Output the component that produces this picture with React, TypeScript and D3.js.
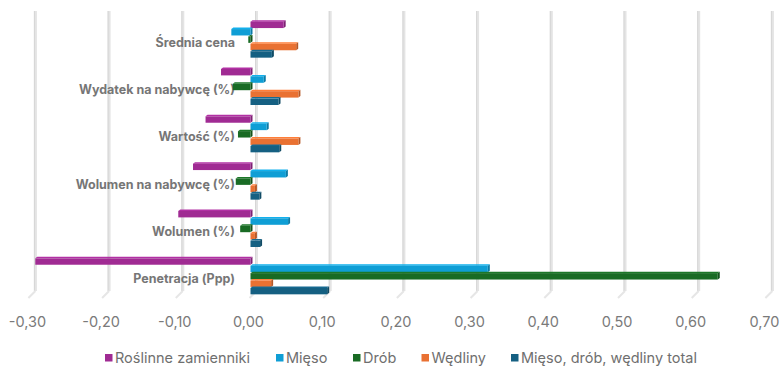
import * as d3 from 'd3'
import { useRef, useEffect } from 'react'

const categories = [
  'Średnia cena',
  'Wydatek na nabywcę (%)',
  'Wartość (%)',
  'Wolumen na nabywcę (%)',
  'Wolumen (%)',
  'Penetracja (Ppp)'
]
const seriesNames = ['Roślinne zamienniki', 'Mięso', 'Drób', 'Wędliny', 'Mięso, drób, wędliny total']
const seriesColors = ['#A02B93', '#0F9ED5', '#196B24', '#E97132', '#156082']

const roslinne = [0.045, -0.040, -0.061, -0.078, -0.098, -0.292]
const mieso = [-0.026, 0.018, 0.022, 0.048, 0.051, 0.322]
const drob = [-0.003, -0.024, -0.017, -0.020, -0.014, 0.634]
const wedliny = [0.062, 0.065, 0.065, 0.006, 0.006, 0.028]
const total = [0.029, 0.038, 0.039, 0.012, 0.013, 0.104]

const ticks = [-0.3, -0.2, -0.1, 0, 0.1, 0.2, 0.3, 0.4, 0.5, 0.6, 0.7]

const App = () => {
  const ref = useRef(null)

  useEffect(() => {
    drawChart()
  }, [])

  const drawChart = () => {
    const W = 782
    const H = 367
    const depth = 6
    const svg = d3.select(ref.current).attr('width', W).attr('height', H)
    svg.selectAll('*').remove()

    const values = [roslinne, mieso, drob, wedliny, total]

    const x = d3.scaleLinear().domain([-0.3, 0.7]).range([29.4, 766.4])
    const y = d3.scaleBand().domain(categories).range([15, 299]).padding(0)
    const sub = d3.scaleBand().domain(seriesNames).range([-18.5, 18.5]).padding(0)

    // back wall grid lines
    const grid = svg.append('g')
    ticks.forEach((t) => {
      const gx = x(t) + depth
      grid.append('line')
        .attr('x1', gx).attr('x2', gx).attr('y1', 11).attr('y2', 291)
        .attr('stroke', '#e4e4e4').attr('stroke-width', 3)
      grid.append('line')
        .attr('x1', gx - 1).attr('x2', gx - 1).attr('y1', 11).attr('y2', 291)
        .attr('stroke', '#d2d2d2').attr('stroke-width', 0.8)
      grid.append('line')
        .attr('x1', gx).attr('x2', gx - 7).attr('y1', 291).attr('y2', 298)
        .attr('stroke', '#e6e6e6').attr('stroke-width', 2)
    })

    // category labels
    svg.append('g')
      .selectAll('text')
      .data(categories)
      .enter()
      .append('text')
      .attr('x', 235)
      .attr('y', (d) => y(d) + y.bandwidth() / 2 + 8)
      .attr('text-anchor', 'end')
      .attr('font-family', 'Inter, Roboto, sans-serif')
      .attr('font-weight', 700)
      .attr('font-size', 12.5)
      .attr('fill', '#767676')
      .text((d) => d)

    // bars
    const bh = sub.bandwidth()
    seriesNames.forEach((s, si) => {
      const col = seriesColors[si]
      const dark = d3.color(col).darker(0.7).formatHex()
      const light = d3.color(col).brighter(0.3).formatHex()
      const g = svg.append('g')
      values[si].forEach((v, ci) => {
        const cy = y(categories[ci]) + y.bandwidth() / 2 + sub(s)
        const x0 = x(0)
        const x1 = x(v)
        const left = Math.min(x0, x1)
        const w = Math.abs(x1 - x0)
        // top face
        g.append('path')
          .attr('d', `M${left},${cy + 1.5} L${left + 2},${cy} L${left + w + 2},${cy} L${left + w},${cy + 1.5} Z`)
          .attr('fill', light)
        // end face
        g.append('path')
          .attr('d', `M${left + w},${cy + 1.5} L${left + w + 2},${cy} L${left + w + 2},${cy + bh - 1} L${left + w},${cy + bh + 0.5} Z`)
          .attr('fill', dark)
        // front face
        g.append('rect')
          .attr('x', left)
          .attr('y', cy + 1.5)
          .attr('width', w)
          .attr('height', bh - 1)
          .attr('fill', col)
      })
    })

    // x tick labels
    svg.append('g')
      .selectAll('text')
      .data(ticks)
      .enter()
      .append('text')
      .attr('x', (d) => x(d) - 2)
      .attr('y', 327)
      .attr('text-anchor', 'middle')
      .attr('font-family', 'Inter, Roboto, sans-serif')
      .attr('font-size', 14.5)
      .attr('fill', '#7a7a7a')
      .text((d) => d3.format('.2f')(d).replace('.', ',').replace('−', '-'))

    // legend
    const legendX = [105, 276, 353, 421.5, 511]
    const legend = svg.append('g')
    seriesNames.forEach((s, i) => {
      legend.append('rect')
        .attr('x', legendX[i]).attr('y', 354).attr('width', 7.5).attr('height', 7.5)
        .attr('fill', seriesColors[i])
      legend.append('text')
        .attr('x', legendX[i] + 10)
        .attr('y', 363)
        .attr('font-family', 'Inter, Roboto, sans-serif')
        .attr('font-size', 14.5)
        .attr('fill', '#6f6f6f')
        .text(s)
    })
  }

  return (
    <div style={{ position: 'absolute', left: 0, top: 0 }}>
      <svg ref={ref} style={{ display: 'block' }}></svg>
    </div>
  )
}

export default App
